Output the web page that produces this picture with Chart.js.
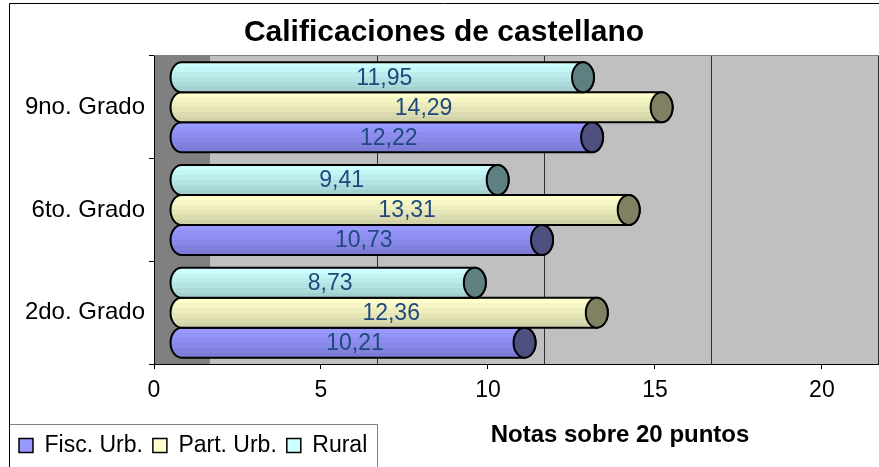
<!DOCTYPE html>
<html><head><meta charset="utf-8">
<script src="https://cdn.jsdelivr.net/npm/chart.js@4"></script>
<style>html,body{margin:0;padding:0;background:#fff}canvas{display:block}</style>
</head><body>
<div style="width:879px;height:467px"><canvas id="c" width="879" height="467"></canvas></div>
<script>
// ---- data ----
const categories = ['9no. Grado', '6to. Grado', '2do. Grado'];
const fiscUrb = [12.22, 10.73, 10.21];
const partUrb = [14.29, 13.31, 12.36];
const rural   = [11.95, 9.41, 8.73];
const seriesNames = ['Fisc. Urb.', 'Part. Urb.', 'Rural'];
const xTicks = [0, 5, 10, 15, 20];
const chartTitle = 'Calificaciones de castellano';
const axisTitle = 'Notas sobre 20 puntos';

// ---- styles ----
const FONT = "'Liberation Sans', Arial, sans-serif";
const styles = {
  'Fisc. Urb.': {top: [153,153,255], bot: [124,124,214], cap: '#4f4f80', legend: '#9999ff'},
  'Part. Urb.': {top: [255,255,204], bot: [210,210,168], cap: '#808062', legend: '#ffffcc'},
  'Rural':      {top: [204,255,255], bot: [164,208,208], cap: '#5f8080', legend: '#ccffff'}
};

function bandGradient(ctx, y0, y1, st) {
  const g = ctx.createLinearGradient(0, y0, 0, y1);
  const n = 6;
  for (let i = 0; i < n; i++) {
    const t = i / (n - 1);
    const c = st.top.map((v, k) => Math.round(v + (st.bot[k] - v) * t));
    const col = `rgb(${c[0]},${c[1]},${c[2]})`;
    g.addColorStop(i / n, col);
    g.addColorStop(Math.min(1, (i + 1) / n - 0.0001), col);
  }
  return g;
}

function cylinder(ctx, base, end, yc, h, grad, cap) {
  const ry = h / 2, rx = 11;
  const top = yc - ry, bot = yc + ry;
  ctx.beginPath();
  ctx.moveTo(base, top);
  ctx.lineTo(end, top);
  ctx.ellipse(end, yc, rx, ry, 0, -Math.PI / 2, Math.PI / 2, false);
  ctx.lineTo(base, bot);
  ctx.ellipse(base, yc, rx, ry, 0, Math.PI / 2, Math.PI * 1.5, false);
  ctx.closePath();
  ctx.fillStyle = grad; ctx.fill();
  ctx.lineWidth = 2; ctx.strokeStyle = '#000'; ctx.stroke();
  ctx.beginPath();
  ctx.ellipse(end, yc, rx, ry, 0, 0, Math.PI * 2);
  ctx.fillStyle = cap; ctx.fill();
  ctx.stroke();
}

const decorPlugin = {
  id: 'decor',
  beforeDraw(chart) {
    const {ctx, chartArea: a} = chart;
    const xw = chart.scales.xw;
    ctx.save();
    ctx.fillStyle = '#fff';
    ctx.fillRect(0, 0, chart.width, chart.height);
    // outer border
    ctx.strokeStyle = '#000'; ctx.lineWidth = 1;
    ctx.beginPath();
    ctx.moveTo(9.5, chart.height + 1); ctx.lineTo(9.5, 3.5); ctx.lineTo(chart.width + 1, 3.5);
    ctx.stroke();
    // walls
    ctx.fillStyle = '#c0c0c0';
    ctx.fillRect(a.left, a.top, a.right - a.left, a.bottom - a.top);
    const x0 = xw.getPixelForValue(0);
    ctx.fillStyle = '#808080';
    ctx.fillRect(a.left, a.top, x0 - a.left, a.bottom - a.top);
    // back-wall gridlines
    ctx.strokeStyle = '#303030'; ctx.lineWidth = 1;
    xTicks.slice(1).forEach(v => {
      const px = Math.round(xw.getPixelForValue(v)) + 0.5;
      ctx.beginPath(); ctx.moveTo(px, a.top); ctx.lineTo(px, a.bottom); ctx.stroke();
    });
    // top edge of plot
    ctx.strokeStyle = '#808080';
    ctx.beginPath(); ctx.moveTo(a.left, a.top - 0.5); ctx.lineTo(a.right, a.top - 0.5); ctx.stroke();
    ctx.restore();
  },
  beforeDatasetDraw(chart, args) {
    const {ctx} = chart;
    const ds = chart.data.datasets[args.index];
    const st = styles[ds.label];
    ctx.save();
    args.meta.data.forEach(el => {
      const h = el.height;
      const g = bandGradient(ctx, el.y - h / 2, el.y + h / 2, st);
      cylinder(ctx, el.base, el.x, el.y, h, g, st.cap);
    });
    ctx.restore();
    return false;
  },
  afterDatasetsDraw(chart) {
    const {ctx} = chart;
    ctx.save();
    ctx.font = '23px ' + FONT;
    ctx.fillStyle = '#1f497d';
    ctx.textAlign = 'center';
    ctx.textBaseline = 'middle';
    chart.data.datasets.forEach((ds, i) => {
      chart.getDatasetMeta(i).data.forEach((el, j) => {
        const txt = ds.data[j].toFixed(2).replace('.', ',');
        ctx.fillText(txt, (el.base - 11 + el.x + 11) / 2 + 2, el.y + 1);
      });
    });
    ctx.restore();
  },
  afterDraw(chart) {
    const {ctx} = chart;
    ctx.save();
    // axis title
    ctx.font = 'bold 24px ' + FONT;
    ctx.fillStyle = '#000';
    ctx.textAlign = 'center';
    ctx.textBaseline = 'middle';
    ctx.fillText(axisTitle, 620, 435);
    // legend frame
    const lg = chart.legend;
    if (lg && lg.legendHitBoxes && lg.legendHitBoxes.length) {
      const last = lg.legendHitBoxes[lg.legendHitBoxes.length - 1];
      const right = Math.round(last.left + last.width + 10) + 0.5;
      ctx.strokeStyle = '#808080'; ctx.lineWidth = 1;
      ctx.beginPath();
      ctx.moveTo(9.5, lg.top + 0.5); ctx.lineTo(right, lg.top + 0.5); ctx.lineTo(right, chart.height + 1);
      ctx.stroke();
    }
    ctx.restore();
  }
};

new Chart(document.getElementById('c'), {
  type: 'bar',
  data: {
    labels: categories,
    datasets: [
      {label: seriesNames[2], data: rural,   backgroundColor: styles['Rural'].legend,      borderColor: '#000', borderWidth: 1.5, xAxisID: 'xb', yAxisID: 'y'},
      {label: seriesNames[1], data: partUrb, backgroundColor: styles['Part. Urb.'].legend, borderColor: '#000', borderWidth: 1.5, xAxisID: 'xb', yAxisID: 'y'},
      {label: seriesNames[0], data: fiscUrb, backgroundColor: styles['Fisc. Urb.'].legend, borderColor: '#000', borderWidth: 1.5, xAxisID: 'xb', yAxisID: 'y'}
    ]
  },
  options: {
    indexAxis: 'y',
    responsive: false,
    devicePixelRatio: 1,
    animation: false,
    layout: {padding: {left: 9, right: 0, top: 0, bottom: 0}},
    categoryPercentage: 0.876,
    barPercentage: 1,
    scales: {
      y: {
        type: 'category',
        position: 'left',
        offset: true,
        grid: {offset: true, drawOnChartArea: false, drawTicks: true, tickLength: 5, color: '#000'},
        border: {display: true, color: '#000', width: 1},
        ticks: {font: {family: FONT, size: 24}, color: '#000', padding: 4},
        afterFit: s => { s.width = 145; }
      },
      x: {
        type: 'linear',
        position: 'bottom',
        min: 0, max: 21.71,
        grid: {drawOnChartArea: false, drawTicks: true, tickLength: 5, color: '#000'},
        border: {display: true, color: '#000', width: 1},
        ticks: {stepSize: 5, includeBounds: false, font: {family: FONT, size: 23}, color: '#000', padding: 8, maxRotation: 0},
        afterFit: s => { s.height = 60; }
      },
      xb: {type: 'linear', axis: 'x', position: 'bottom', display: false, min: -0.82, max: 20.76},
      xw: {type: 'linear', axis: 'x', position: 'bottom', display: false, min: -1.677, max: 20.03}
    },
    plugins: {
      title: {display: true, text: chartTitle, color: '#000', font: {family: FONT, size: 30, weight: 'bold'}, padding: {top: 15, bottom: 5}},
      legend: {
        display: true, position: 'bottom', align: 'start', reverse: true,
        labels: {boxWidth: 14, boxHeight: 14, padding: 10, color: '#000', font: {family: FONT, size: 23}}
      },
      tooltip: {enabled: false}
    }
  },
  plugins: [decorPlugin]
});
</script>
</body></html>
